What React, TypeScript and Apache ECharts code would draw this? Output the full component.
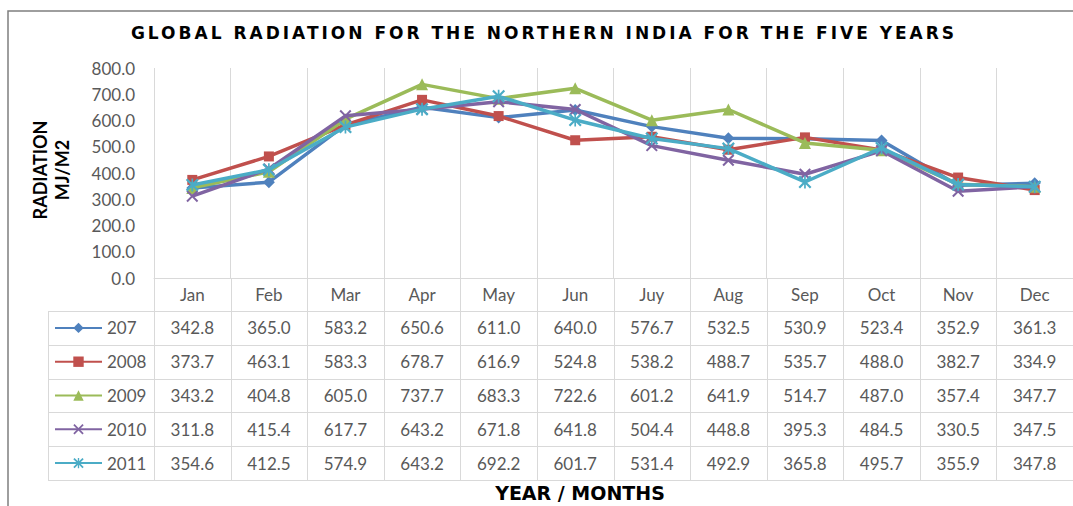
import React, { useEffect, useRef } from "react";
import * as echarts from "echarts";

const TITLE = "GLOBAL RADIATION FOR THE NORTHERN INDIA FOR THE FIVE YEARS";
const Y_NAME = "RADIATION\nMJ/M2";
const X_NAME = "YEAR / MONTHS";

const months = ["Jan", "Feb", "Mar", "Apr", "May", "Jun", "Juy", "Aug", "Sep", "Oct", "Nov", "Dec"];
const seriesNames = ["207", "2008", "2009", "2010", "2011"];

const v207 = [342.8, 365.0, 583.2, 650.6, 611.0, 640.0, 576.7, 532.5, 530.9, 523.4, 352.9, 361.3];
const v2008 = [373.7, 463.1, 583.3, 678.7, 616.9, 524.8, 538.2, 488.7, 535.7, 488.0, 382.7, 334.9];
const v2009 = [343.2, 404.8, 605.0, 737.7, 683.3, 722.6, 601.2, 641.9, 514.7, 487.0, 357.4, 347.7];
const v2010 = [311.8, 415.4, 617.7, 643.2, 671.8, 641.8, 504.4, 448.8, 395.3, 484.5, 330.5, 347.5];
const v2011 = [354.6, 412.5, 574.9, 643.2, 692.2, 601.7, 531.4, 492.9, 365.8, 495.7, 355.9, 347.8];

const Y_MIN = 0;
const Y_MAX = 800;
const Y_STEP = 100;

const seriesValues = [v207, v2008, v2009, v2010, v2011];
const colors = ["#4F81BD", "#C0504D", "#9BBB59", "#8064A2", "#4BACC6"];

const X_SHAPE = "M0,1.2L1.2,0L5,3.8L8.8,0L10,1.2L6.2,5L10,8.8L8.8,10L5,6.2L1.2,10L0,8.8L3.8,5Z";
const STAR_SHAPE = X_SHAPE + "M4.35,0L5.65,0L5.65,10L4.35,10Z";
const symbols = ["diamond", "rect", "triangle", "path://" + X_SHAPE, "path://" + STAR_SHAPE];
const symbolSizes = [12, 10, 12, 12, 13];

const FONT = "Lato";
const GRAY = "#595959";
const GRID_LINE = "#D9D9D9";

const TABLE_TOP = 311;
const ROW_H = 33.8;
const TABLE_LEFT = 48;
const rowCenter = (r: number) => TABLE_TOP + ROW_H * (r + 0.5);

export default function App() {
  const ref = useRef<HTMLDivElement>(null);

  useEffect(() => {
    const el = ref.current!;
    const chart = echarts.init(el, null, { renderer: "svg" });

    const option: any = {
      animation: false,
      backgroundColor: "#ffffff",
      grid: { left: 154, top: 68, width: 923, height: 210, containLabel: false },
      legend: seriesNames.map((n, r) => ({
        data: [n],
        orient: "horizontal",
        left: 54,
        top: rowCenter(r) - 8.5,
        padding: 0,
        itemWidth: 47,
        itemHeight: 13,
        selectedMode: false,
        textStyle: { fontFamily: FONT, fontSize: 17, color: GRAY, lineHeight: 17 },
      })),
      xAxis: {
        type: "category",
        data: months,
        boundaryGap: true,
        axisTick: { show: false },
        axisLine: { show: true, lineStyle: { color: GRID_LINE, width: 1 } },
        axisLabel: { fontFamily: FONT, fontSize: 17, color: GRAY, margin: 8 },
        splitLine: { show: true, lineStyle: { color: GRID_LINE, width: 1 } },
      },
      yAxis: {
        type: "value",
        min: Y_MIN,
        max: Y_MAX,
        interval: Y_STEP,
        axisLine: { show: false },
        axisTick: { show: false },
        splitLine: { show: false },
        axisLabel: {
          fontFamily: FONT,
          fontSize: 17,
          color: GRAY,
          margin: 19,
          formatter: (v: number) => v.toFixed(1),
        },
      },
      series: seriesNames.map((n, i) => ({
        name: n,
        type: "line",
        data: seriesValues[i],
        symbol: symbols[i],
        symbolSize: symbolSizes[i],
        showAllSymbol: true,
        lineStyle: { color: colors[i], width: 3.5 },
        itemStyle: { color: colors[i] },
        emphasis: { disabled: true },
        z: 2 + i,
      })),
    };

    chart.setOption(option);

    const cx = months.map((m) => chart.convertToPixel({ xAxisIndex: 0 }, m) as unknown as number);
    const band = cx[1] - cx[0];
    const bounds = [...cx.map((c) => c - band / 2), cx[cx.length - 1] + band / 2];
    const axisY = chart.convertToPixel({ yAxisIndex: 0 }, Y_MIN) as unknown as number;
    const tableBottom = TABLE_TOP + ROW_H * seriesNames.length;

    const graphics: any[] = [];
    graphics.push({
      type: "rect",
      silent: true,
      shape: { x: 8, y: 11, width: 1100, height: 540 },
      style: { fill: "none", stroke: "#7F7F7F", lineWidth: 1.5 },
    });
    bounds.forEach((bx) => {
      graphics.push({
        type: "line",
        silent: true,
        shape: { x1: Math.round(bx) + 0.5, y1: axisY, x2: Math.round(bx) + 0.5, y2: tableBottom },
        style: { stroke: GRID_LINE, lineWidth: 1 },
      });
    });
    graphics.push({
      type: "line",
      silent: true,
      shape: { x1: TABLE_LEFT + 0.5, y1: TABLE_TOP, x2: TABLE_LEFT + 0.5, y2: tableBottom },
      style: { stroke: GRID_LINE, lineWidth: 1 },
    });
    for (let r = 0; r <= seriesNames.length; r++) {
      const y = Math.round(TABLE_TOP + ROW_H * r) + 0.5;
      graphics.push({
        type: "line",
        silent: true,
        shape: { x1: TABLE_LEFT, y1: y, x2: 1100, y2: y },
        style: { stroke: GRID_LINE, lineWidth: 1 },
      });
    }
    seriesValues.forEach((vals, r) => {
      vals.forEach((v, i) => {
        graphics.push({
          type: "text",
          silent: true,
          x: cx[i],
          y: rowCenter(r),
          style: {
            text: v.toFixed(1),
            fontFamily: FONT,
            fontSize: 17,
            fill: GRAY,
            align: "center",
            verticalAlign: "middle",
          },
        });
      });
    });
    graphics.push({
      type: "text",
      silent: true,
      x: 544,
      y: 33,
      style: {
        text: TITLE,
        fontFamily: "DejaVu Sans",
        fontWeight: "bold",
        fontSize: 17,
        fill: "#000000",
        align: "center",
        verticalAlign: "middle",
      },
    });
    graphics.push({
      type: "text",
      silent: true,
      x: 51,
      y: 170,
      rotation: Math.PI / 2,
      style: {
        text: Y_NAME,
        fontFamily: FONT,
        fontWeight: "bold",
        fontSize: 18,
        lineHeight: 22,
        fill: "#000000",
        align: "center",
        verticalAlign: "middle",
      },
    });
    graphics.push({
      type: "text",
      silent: true,
      x: 580,
      y: 493,
      style: {
        text: X_NAME,
        fontFamily: "DejaVu Sans",
        fontWeight: "bold",
        fontSize: 19,
        fill: "#000000",
        align: "center",
        verticalAlign: "middle",
      },
    });

    chart.setOption({ graphic: graphics });

    const spaceTitle = () => {
      el.querySelectorAll("text").forEach((t) => {
        if (t.textContent === TITLE) t.setAttribute("letter-spacing", "3");
      });
    };
    spaceTitle();
    const raf = requestAnimationFrame(spaceTitle);

    return () => {
      cancelAnimationFrame(raf);
      chart.dispose();
    };
  }, []);

  return (
    <div
      ref={ref}
      style={{ position: "absolute", left: 0, top: 0, width: 1073, height: 506, background: "#ffffff" }}
    />
  );
}
